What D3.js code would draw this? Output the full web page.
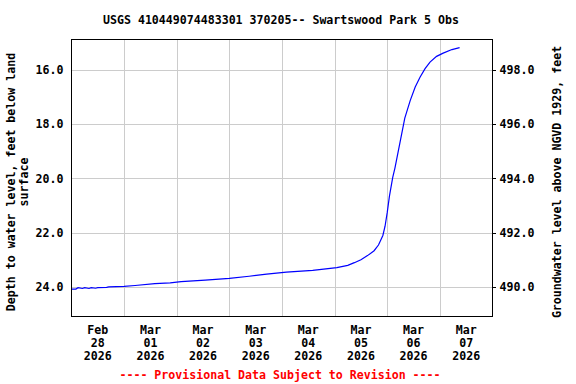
<!DOCTYPE html>
<html>
<head>
<meta charset="utf-8">
<script src="https://cdn.jsdelivr.net/npm/d3@7"></script>
<style>
  html, body { margin: 0; padding: 0; background: #fff; }
  svg text { font-family: "DejaVu Sans Mono", "Liberation Mono", monospace; font-weight: bold; font-size: 11.6px; }
</style>
</head>
<body>
<svg id="chart" width="576" height="384"></svg>
<script>
const titleText = "USGS 410449074483301 370205-- Swartswood Park 5 Obs";
const leftLabel = ["Depth to water level, feet below land", "surface"];
const rightLabel = "Groundwater level above NGVD 1929, feet";
const footerText = "---- Provisional Data Subject to Revision ----";

// readings: time (local) and depth below land surface, ft
const times = [
  "2026-02-28 00:00", "2026-02-28 02:00", "2026-02-28 03:00", "2026-02-28 05:00",
  "2026-02-28 06:00", "2026-02-28 08:00", "2026-02-28 09:00", "2026-02-28 11:00",
  "2026-02-28 12:00", "2026-02-28 16:00", "2026-02-28 17:00", "2026-03-01 00:00",
  "2026-03-01 05:00", "2026-03-01 14:00", "2026-03-01 21:00", "2026-03-02 02:00",
  "2026-03-02 13:00", "2026-03-03 00:00", "2026-03-03 09:00", "2026-03-03 17:00",
  "2026-03-04 02:00", "2026-03-04 14:00", "2026-03-05 01:00", "2026-03-05 06:00",
  "2026-03-05 09:00", "2026-03-05 12:00", "2026-03-05 15:00", "2026-03-05 18:00",
  "2026-03-05 20:00", "2026-03-05 22:00", "2026-03-05 23:00", "2026-03-06 00:00",
  "2026-03-06 01:00", "2026-03-06 02:30", "2026-03-06 03:30", "2026-03-06 06:00",
  "2026-03-06 08:00", "2026-03-06 10:30", "2026-03-06 12:45", "2026-03-06 15:00",
  "2026-03-06 17:15", "2026-03-06 19:30", "2026-03-06 22:30", "2026-03-07 01:30",
  "2026-03-07 05:30", "2026-03-07 09:00"
];
const depths = [
  24.07, 24.07, 24.02, 24.05,
  24.02, 24.05, 24.02, 24.04,
  24.02, 24.01, 23.99, 23.97,
  23.94, 23.87, 23.84, 23.80,
  23.74, 23.68, 23.60, 23.52,
  23.45, 23.38, 23.28, 23.20,
  23.10, 22.99, 22.84, 22.66,
  22.45, 22.10, 21.76, 21.25,
  20.65, 19.96, 19.62, 18.60,
  17.78, 17.13, 16.64, 16.27,
  15.96, 15.72, 15.51, 15.39,
  15.26, 15.19
];

const depthTicks = [16, 18, 20, 22, 24];
const elevTicks = [490, 492, 494, 496, 498];
const datum = 514; // elevation = datum - depth
const dayLabels = ["2026-02-28", "2026-03-01", "2026-03-02", "2026-03-03",
                   "2026-03-04", "2026-03-05", "2026-03-06", "2026-03-07"];

const parseT = d3.timeParse("%Y-%m-%d %H:%M");
const parseD = d3.timeParse("%Y-%m-%d");
const data = times.map((t, i) => ({ t: parseT(t), d: depths[i] }));

const svg = d3.select("#chart");
const L = 71.5, R = 492.5, T = 39.5, B = 316.5;

const x = d3.scaleTime()
  .domain([parseD("2026-02-28"), parseD("2026-03-08")])
  .range([L, R]);
const y = d3.scaleLinear().domain([14.89, 25.08]).range([T, B]);
const y2 = d3.scaleLinear().domain([datum - 14.89, datum - 25.08]).range([T, B]);

// grid
const grid = svg.append("g").attr("shape-rendering", "crispEdges");
grid.selectAll(".hg").data(depthTicks).enter().append("line")
  .attr("x1", L).attr("x2", R)
  .attr("y1", d => Math.round(y(d)) + 0.5).attr("y2", d => Math.round(y(d)) + 0.5)
  .attr("stroke", "#cccccc");
const days = d3.timeDay.range(parseD("2026-03-01"), parseD("2026-03-08"));
grid.selectAll(".vg").data(days).enter().append("line")
  .attr("y1", T).attr("y2", B)
  .attr("x1", d => Math.round(x(d)) + 0.5).attr("x2", d => Math.round(x(d)) + 0.5)
  .attr("stroke", "#cccccc");

// data line
svg.append("path").datum(data)
  .attr("fill", "none").attr("stroke", "#0000ff").attr("stroke-width", 1.2)
  .attr("d", d3.line().x(d => x(d.t)).y(d => y(d.d)));

// frame
svg.append("rect").attr("x", L).attr("y", T).attr("width", R - L).attr("height", B - T)
  .attr("fill", "none").attr("stroke", "#000").attr("shape-rendering", "crispEdges");

// left axis
const yAxis = d3.axisLeft(y).tickValues(depthTicks).tickFormat(d3.format(".1f")).tickSize(0).tickPadding(8);
svg.append("g").attr("transform", `translate(${L},0)`).call(yAxis)
  .call(g => g.select(".domain").remove())
  .call(g => g.selectAll("text").attr("fill", "#000").style("font-size", null).style("font-family", null));

// right axis
const yAxis2 = d3.axisRight(y2).tickValues(elevTicks).tickFormat(d3.format(".1f")).tickSize(3).tickPadding(4);
svg.append("g").attr("transform", `translate(${R},0)`).call(yAxis2)
  .call(g => g.select(".domain").remove())
  .call(g => g.selectAll("line").attr("stroke", "#000").attr("shape-rendering", "crispEdges"))
  .call(g => g.selectAll("text").attr("fill", "#000"));
svg.selectAll(".tick text").attr("font-size", null).attr("font-family", null);

// bottom labels at noon of each day
const fmtM = d3.timeFormat("%b"), fmtD = d3.timeFormat("%d"), fmtY = d3.timeFormat("%Y");
const xl = svg.append("g").selectAll("text").data(dayLabels.map(parseD)).enter().append("text")
  .attr("text-anchor", "middle")
  .attr("x", d => x(d3.timeHour.offset(d, 12)));
xl.append("tspan").attr("x", d => x(d3.timeHour.offset(d, 12))).attr("y", 334).text(fmtM);
xl.append("tspan").attr("x", d => x(d3.timeHour.offset(d, 12))).attr("y", 347).text(fmtD);
xl.append("tspan").attr("x", d => x(d3.timeHour.offset(d, 12))).attr("y", 360).text(fmtY);

// title
svg.append("text").attr("x", 281).attr("y", 24).attr("text-anchor", "middle").text(titleText);

// left axis title
const lt = svg.append("text").attr("text-anchor", "middle")
  .attr("transform", "translate(15,182) rotate(-90)");
lt.append("tspan").attr("x", 0).attr("y", 0).text(leftLabel[0]);
lt.append("tspan").attr("x", 0).attr("y", 13).text(leftLabel[1]);

// right axis title
svg.append("text").attr("text-anchor", "middle")
  .attr("transform", "translate(561,182) rotate(-90)").text(rightLabel);

// footer
svg.append("text").attr("x", 280).attr("y", 379).attr("text-anchor", "middle")
  .attr("fill", "#ff0000").text(footerText);
</script>
</body>
</html>
